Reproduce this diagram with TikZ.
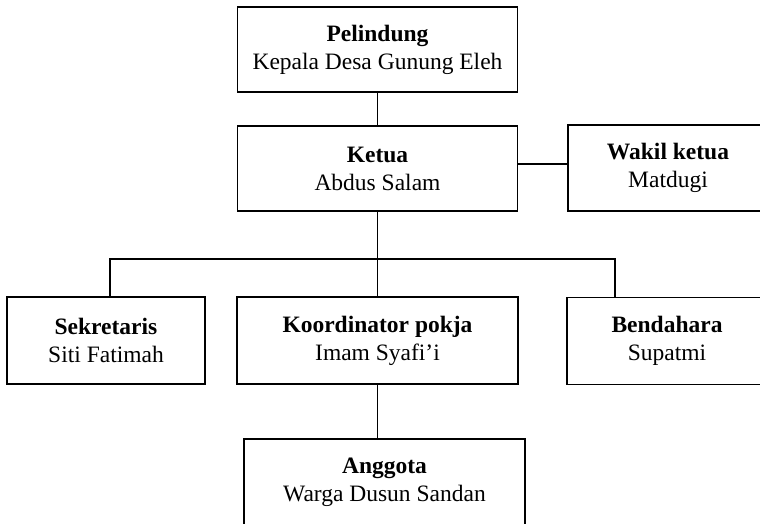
\documentclass[tikz,border=0pt]{standalone}
\usepackage{fontspec}
\setmainfont{Liberation Serif}
\usepackage{tikz}
\usetikzlibrary{calc}
\newcommand{\jabatan}[2]{\textbf{#1}\\#2}

\begin{document}
\begin{tikzpicture}[x=1pt, y=-1pt,
    orgbox/.style={draw=black, line width=1.3pt, inner sep=0pt, align=center,
      font=\fontsize{23.5}{28}\selectfont},
    link/.style={draw=black, line width=1.1pt}]
  % page frame (the reference is cut at the right and bottom edges)
  \useasboundingbox (0,0) rectangle (760,524);

  % top row
  \node[orgbox, minimum width=280pt, minimum height=85pt] (pel) at (377.5,49.5)
    {\jabatan{Pelindung}{Kepala Desa Gunung Eleh}};
  \node[orgbox, minimum width=280pt, minimum height=85pt] (ket) at (377.5,168.5)
    {\jabatan{Ketua}{Abdus Salam}};
  \node[orgbox, minimum width=200pt, minimum height=86pt] (wak) at (668,168)
    {\jabatan{Wakil ketua}{Matdugi}};

  % second row
  \node[orgbox, minimum width=198pt, minimum height=87pt] (sek) at (106,340.5)
    {\jabatan{Sekretaris}{Siti Fatimah}};
  \node[orgbox, minimum width=281pt, minimum height=87pt] (koo) at (377.5,340.5)
    {\jabatan{Koordinator pokja}{Imam Syafi’i}};
  \node[orgbox, minimum width=200pt, minimum height=87pt] (ben) at (667,341)
    {\jabatan{Bendahara}{Supatmi}};

  % members
  \node[orgbox, minimum width=281pt, minimum height=86pt] (ang) at (384.5,482)
    {\jabatan{Anggota}{Warga Dusun Sandan}};

  % connectors
  \coordinate (busL) at (110,259);
  \coordinate (busR) at (615,259);
  \draw[link] (pel) -- (ket);
  \draw[link] (ket.east |- 0,164) -- (wak.west |- 0,164);
  \draw[link] (ket.south) -- (ket.south |- koo.north);
  \draw[link] (busL |- sek.north) -- (busL) -- (busR) -- (busR |- ben.north);
  \draw[link] (koo.south) -- (koo.south |- ang.north);
\end{tikzpicture}
\end{document}
